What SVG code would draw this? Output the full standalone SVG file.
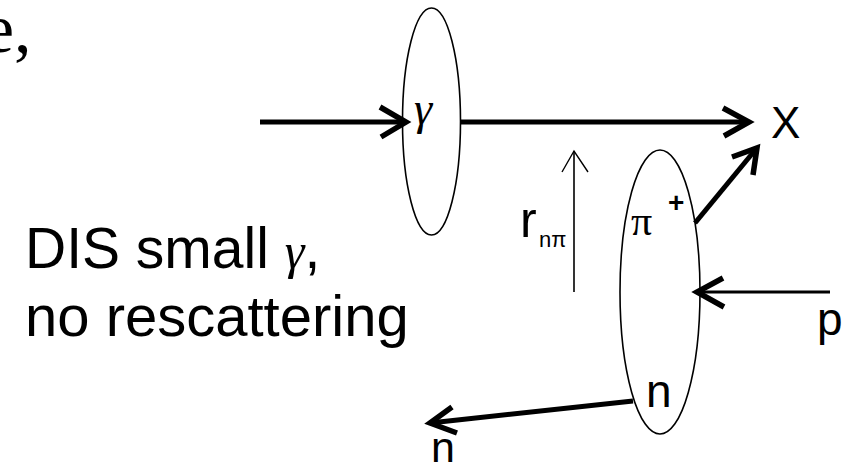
<svg xmlns="http://www.w3.org/2000/svg" width="861" height="467" viewBox="0 0 861 467">
<style>
.bg{fill:#fff}
.ell{fill:none;stroke:#000;stroke-width:1.6}
.thick{fill:none;stroke:#000;stroke-width:5;stroke-linecap:butt}
.mid{fill:none;stroke:#000;stroke-width:3.2}
.thin{fill:none;stroke:#000;stroke-width:1.6}
.head{fill:none;stroke:#000;stroke-width:5.5;stroke-linejoin:miter;stroke-linecap:butt}
.headthin{fill:none;stroke:#000;stroke-width:1.4}
.sans{font-family:"Liberation Sans",Arial,sans-serif;fill:#000}
.serif{font-family:"Liberation Serif","Times New Roman",serif;fill:#000}
</style>
<rect class="bg" x="0" y="0" width="861" height="467"/>
<text class="serif" x="-17" y="52" font-size="70">e,</text>
<text class="sans" x="25" y="268" font-size="57">DIS small <tspan class="serif" font-style="italic" font-size="50">γ</tspan>,</text>
<text class="sans" x="25" y="336" font-size="58">no rescattering</text>
<g id="photon">
<ellipse class="ell" cx="431.5" cy="121.5" rx="29" ry="113.5"/>
<text class="serif" x="414" y="124" font-size="46" font-style="italic">γ</text>
</g>
<g id="pion-nucleon">
<ellipse class="ell" cx="660" cy="292" rx="40" ry="142"/>
<text class="serif" x="631" y="235" font-size="42">π</text>
<text class="sans" x="668" y="212" font-size="28" font-weight="bold">+</text>
<text class="sans" x="646" y="407" font-size="46">n</text>
</g>
<g id="X"><text class="sans" x="771" y="138" font-size="44">X</text></g>
<g id="p"><text class="sans" x="817" y="335" font-size="46">p</text></g>
<g id="n-out"><text class="sans" x="431" y="462" font-size="43">n</text></g>
<g id="r-label">
<text class="sans" x="520" y="237" font-size="50">r</text>
<text class="sans" x="539" y="247" font-size="22">nπ</text>
</g>
<g id="connectors">
<line class="thick" x1="260" y1="122" x2="405" y2="122"/>
<polyline class="head" points="380,107 406,122 381,137"/>
<line class="thick" x1="460" y1="122" x2="748" y2="122"/>
<polyline class="head" points="723,108 749,122 724,136"/>
<line class="thick" x1="695" y1="223" x2="756" y2="149"/>
<polyline class="head" points="732,157 757,148 753,175"/>
<line class="mid" x1="830" y1="292" x2="697" y2="292"/>
<polyline class="head" points="723,278 697,292 724,307"/>
<line class="thick" x1="633" y1="401" x2="430" y2="423"/>
<polyline class="head" points="452,407 430,423 457,433"/>
<line class="thin" x1="574" y1="292" x2="574" y2="151"/>
<polyline class="headthin" points="562,172 574,151 588,172"/>
</g>
</svg>
